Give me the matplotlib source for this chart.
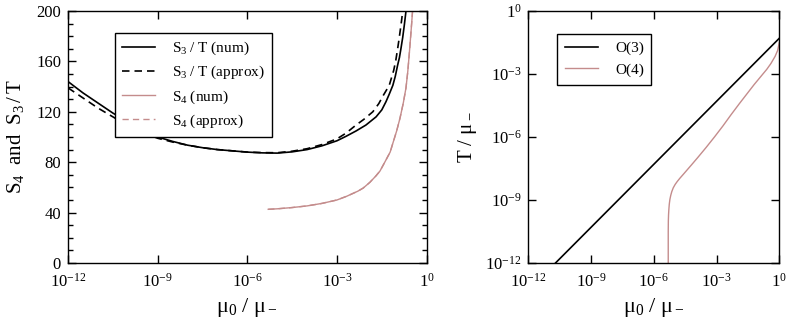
import numpy as np
import matplotlib
matplotlib.use('Agg')
import matplotlib.pyplot as plt
from matplotlib.lines import Line2D
from matplotlib.ticker import NullLocator, MultipleLocator

plt.rcParams['font.family'] = ['Liberation Serif', 'DejaVu Serif']
plt.rcParams['mathtext.fontset'] = 'custom'
plt.rcParams['mathtext.rm'] = 'Liberation Serif'
plt.rcParams['mathtext.it'] = 'Liberation Serif:italic'

# left panel: actions vs log10(mu0/mu-)
s3_num_x = [-12, -11.5, -11, -10.5, -10, -9.5, -9, -8.5, -8, -7.5, -7, -6.5, -6, -5.5, -5, -4.5, -4, -3.5, -3,
            -2.7, -2.36, -2.03, -1.69, -1.5, -1.36, -1.25, -1.13, -1.05, -0.97, -0.91, -0.86, -0.8, -0.745, -0.69, -0.65]
s3_num_y = [144, 135, 127, 119, 112, 105.5, 100, 96.5, 93.5, 91.5, 90, 89, 88, 87.4, 87.2, 88.2, 90, 93, 97,
            100.5, 104.8, 109.5, 116, 121.5, 128, 134, 141, 148, 157, 163, 170, 179, 189, 200, 210]
s3_apx_x = [-12, -11.5, -11, -10.5, -10, -9.5, -9, -8.5, -8, -7.5, -7, -6.5, -6, -5.5, -5, -4.5, -4, -3.5, -3,
            -2.7, -2.36, -2.1, -1.8, -1.6, -1.45, -1.25, -1.1, -1.03, -0.97, -0.92, -0.88, -0.84, -0.8, -0.76]
s3_apx_y = [139, 131, 123, 116, 109, 103.5, 99, 96, 93.5, 91.5, 90, 89, 88, 87.6, 87.5, 88.7, 90.7, 94, 98.5,
            103, 109.5, 114, 120, 126.5, 133, 141, 153, 161, 170, 178, 185, 192, 200, 210]
s4_num_x = [-5.3, -5, -4.5, -4, -3.5, -3, -2.67, -2.3, -2.12, -1.9, -1.7, -1.56, -1.4, -1.22, -1.13, -1.0,
            -0.89, -0.78, -0.69, -0.63, -0.58, -0.52, -0.47, -0.44]
s4_num_y = [42.6, 43, 44, 45.3, 47.3, 50, 53, 57, 59.5, 64, 69, 73, 80, 88, 95, 105,
            115, 127, 139, 152, 166, 184, 200, 212]
s4_apx_x = s4_num_x
s4_apx_y = s4_num_y

# right panel: log10(T/mu-) vs log10(mu0/mu-)
o3_x = [-11, -10.7, -8, -6, -4, -2, 0]
o3_y = [-12.3, -12, -9.3, -7.3, -5.3, -3.3, -1.3]
o4_x = [-5.31, -5.31, -5.305, -5.295, -5.28, -5.26, -5.23, -5.19, -5.14, -5.07, -4.98, -4.88, -4.75, -4.6, -4.4,
        -4.2, -3.9, -3.5, -3.1, -2.7, -2.3, -1.9, -1.55, -1.2, -0.9, -0.6, -0.4, -0.2, -0.08, 0]
o4_y = [-12.5, -10.5, -10.0, -9.7, -9.45, -9.2, -8.97, -8.78, -8.6, -8.42, -8.26, -8.12, -7.96, -7.79, -7.56,
        -7.33, -6.98, -6.5, -6.0, -5.48, -4.93, -4.4, -3.95, -3.5, -3.14, -2.78, -2.5, -2.16, -1.88, -1.5]

decades = [-12, -9, -6, -3, 0]
dec_labels = [r'$10^{-12}$', r'$10^{-9}$', r'$10^{-6}$', r'$10^{-3}$', r'$1^{0}$']

red = '#c48c8c'
dash = (0, (4.5, 3))

fig = plt.figure(figsize=(7.89, 3.24), dpi=100)
ax1 = fig.add_axes([0.0862, 0.1883, 0.4545, 0.7778])
ax2 = fig.add_axes([0.6696, 0.1883, 0.3181, 0.7778])

p = lambda v: 10.0 ** np.array(v)

ax1.plot(p(s3_num_x), s3_num_y, color='black', lw=1.2)
ax1.plot(p(s3_apx_x), s3_apx_y, color='black', lw=1.2, ls=dash)
ax1.plot(p(s4_apx_x), s4_apx_y, color=red, lw=1.0, ls=dash, zorder=1)
ax1.plot(p(s4_num_x), s4_num_y, color=red, lw=1.0, zorder=2)
handles = [Line2D([], [], color='black', lw=1.2),
           Line2D([], [], color='black', lw=1.2, ls=dash),
           Line2D([], [], color=red, lw=1.0),
           Line2D([], [], color=red, lw=1.0, ls=dash)]
labels = [r'$\mathrm{S_3\ /\ T\ (num)}$', r'$\mathrm{S_3\ /\ T\ (approx)}$',
          r'$\mathrm{S_4\ (num)}$', r'$\mathrm{S_4\ (approx)}$']
leg1 = ax1.legend(handles, labels,
                  loc='upper left', bbox_to_anchor=(0.131, 0.913), borderaxespad=0,
                  fancybox=False, framealpha=1, edgecolor='black', fontsize=11,
                  handlelength=2.2, handletextpad=1.1, labelspacing=0.45,
                  borderpad=0.45)
leg1.get_frame().set_linewidth(1.0)

ax1.set_xscale('log')
ax1.set_xlim(1e-12, 1)
ax1.set_ylim(0, 200)
ax1.set_xticks(p(decades))
ax1.set_xticklabels(dec_labels)
ax1.xaxis.set_minor_locator(NullLocator())
ax1.yaxis.set_major_locator(MultipleLocator(40))
ax1.yaxis.set_minor_locator(MultipleLocator(10))
ax1.set_xlabel(r'$\mathrm{μ_0\ /\ μ_-}$', fontsize=16, labelpad=4)
ax1.set_ylabel(r'$\mathrm{S_4\ \ and\ \ S_3\,/\,T}$', fontsize=15, labelpad=7)

ax2.plot(p(o3_x), p(o3_y), color='black', lw=1.2, label='O(3)')
ax2.plot(p(o4_x), p(o4_y), color=red, lw=1.0, label='O(4)')
leg2 = ax2.legend(loc='upper left', bbox_to_anchor=(0.114, 0.909), borderaxespad=0,
                  fancybox=False, framealpha=1, edgecolor='black', fontsize=11,
                  handlelength=2.2, handletextpad=1.1, labelspacing=0.5,
                  borderpad=0.5)
leg2.get_frame().set_linewidth(1.0)
ax2.set_xscale('log')
ax2.set_yscale('log')
ax2.set_xlim(1e-12, 1)
ax2.set_ylim(1e-12, 1)
ax2.set_xticks(p(decades))
ax2.set_xticklabels(dec_labels)
ax2.set_yticks(p(decades))
ax2.set_yticklabels(dec_labels)
ax2.xaxis.set_minor_locator(NullLocator())
ax2.yaxis.set_minor_locator(NullLocator())
ax2.set_xlabel(r'$\mathrm{μ_0\ /\ μ_-}$', fontsize=16, labelpad=4)
ax2.set_ylabel(r'$\mathrm{T\ /\ μ_-}$', fontsize=15, labelpad=4)

for ax in (ax1, ax2):
    for s in ax.spines.values():
        s.set_linewidth(1.0)
    ax.tick_params(which='both', direction='in', top=True, right=True, labelsize=12, width=1.0)
    ax.tick_params(which='major', length=6, pad=5)
    ax.tick_params(which='minor', length=3.5)
    ax.tick_params(axis='x', which='major', pad=7)

fig.savefig('out.png', dpi=100)
